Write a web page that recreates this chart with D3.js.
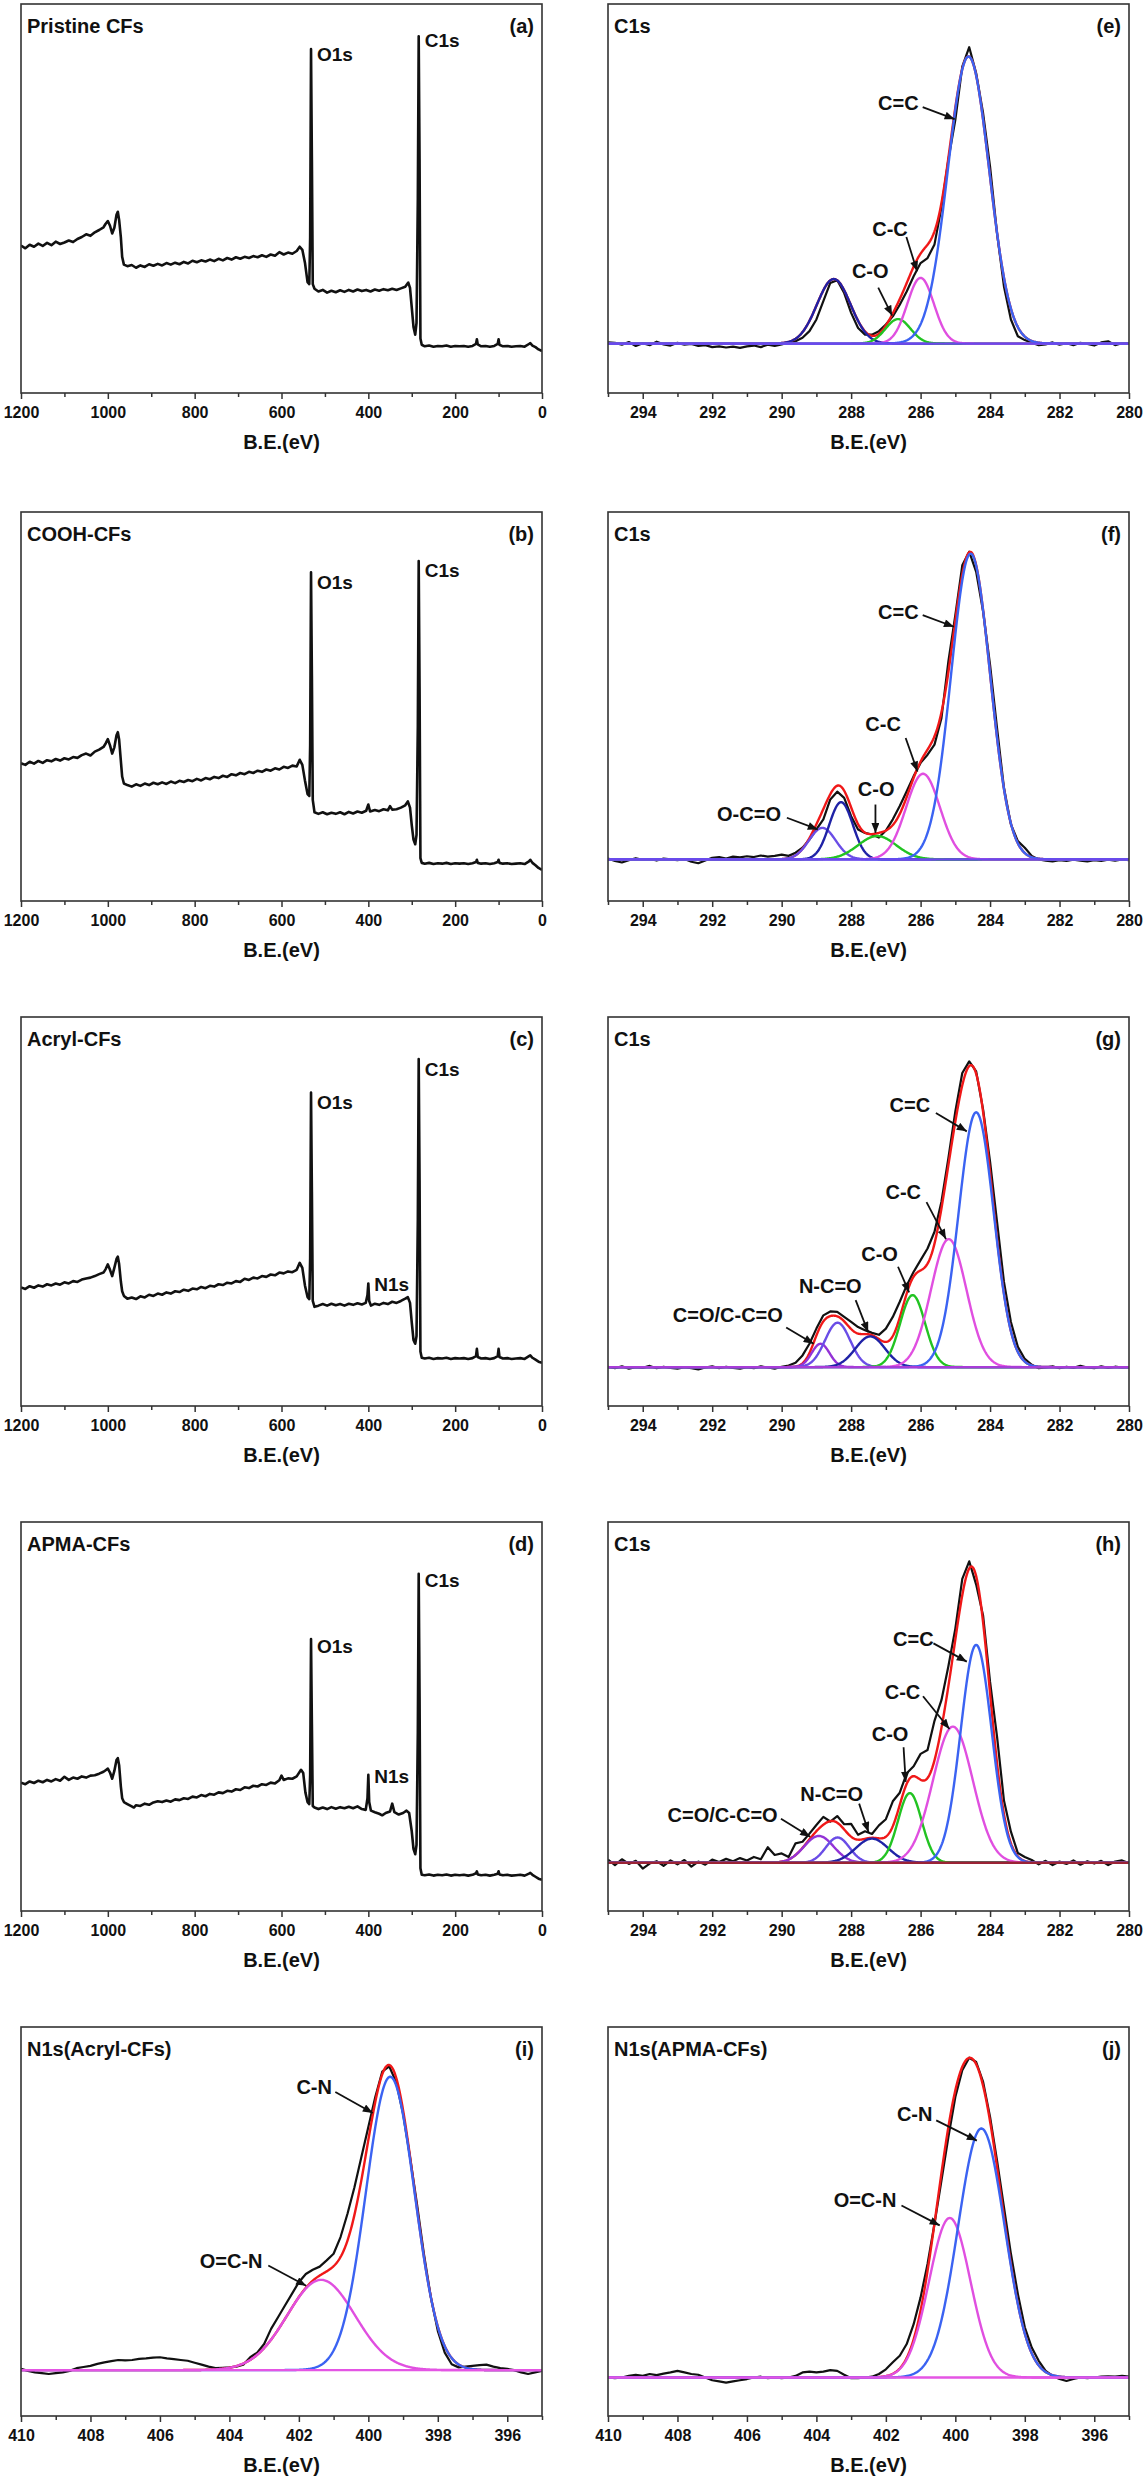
<!DOCTYPE html>
<html>
<head>
<meta charset="utf-8">
<script src="https://cdn.jsdelivr.net/npm/d3@7"></script>
<style>
body{margin:0;background:#fff}
text{font-family:"Liberation Sans",Arial,sans-serif;font-weight:bold;fill:#111}
</style>
</head>
<body>
<svg id="chart"></svg>
<script>
// survey spectra: [B.E. (eV), intensity as % of frame height]
const surveyA = [[1200,37.9],[1190,37.2],[1180,38.1],[1170,37.6],[1160,38.4],[1150,37.8],[1140,38.6],[1130,38.0],[1120,38.9],[1110,38.3],[1100,38.7],[1090,39.2],[1080,38.8],[1070,39.6],[1060,40.1],[1050,40.8],[1040,40.4],[1030,41.3],[1020,41.9],[1010,42.6],[1005,43.5],[1000,44.2],[995,43.0],[990,41.0],[985,42.5],[980,45.8],[977,46.6],[974,44.5],[970,40.0],[967,35.0],[963,33.0],[955,32.6],[945,32.9],[935,32.2],[925,32.8],[915,32.4],[905,33.1],[895,32.7],[885,33.2],[875,32.8],[865,33.4],[855,33.0],[845,33.5],[835,33.1],[825,33.7],[815,33.3],[805,34.0],[795,33.6],[785,34.1],[775,33.8],[765,34.3],[755,33.9],[745,34.5],[735,34.1],[725,34.7],[715,34.3],[705,34.9],[695,34.5],[685,35.0],[675,34.7],[665,35.2],[655,34.9],[645,35.4],[635,35.0],[625,35.6],[615,35.3],[605,36.2],[595,35.6],[585,36.1],[575,35.8],[565,36.5],[558,37.6],[552,36.8],[546,33.5],[540,28.5],[536,28.0],[534,40.0],[532,88.4],[530,60.0],[528,28.0],[524,26.8],[515,26.1],[505,26.5],[495,25.8],[485,26.3],[475,25.9],[465,26.4],[455,26.0],[445,26.5],[435,26.1],[425,26.6],[415,26.2],[405,26.5],[395,26.1],[385,26.6],[375,26.3],[365,26.7],[355,26.4],[345,26.8],[335,26.5],[325,26.9],[315,27.3],[308,28.4],[304,27.0],[300,22.0],[296,17.0],[292,15.0],[289,18.0],[286,50.0],[284,91.7],[282,60.0],[280,14.0],[277,12.4],[270,12.0],[260,12.2],[250,11.9],[240,12.1],[230,12.0],[220,12.2],[210,11.9],[200,12.1],[190,12.0],[180,12.1],[170,11.9],[160,12.1],[152,12.6],[150,13.8],[148,12.5],[140,12.0],[130,12.1],[120,11.9],[110,12.1],[102,12.6],[100,13.8],[98,12.4],[90,12.0],[80,12.1],[70,11.9],[60,12.0],[50,12.1],[40,11.9],[30,12.6],[27,12.8],[22,12.2],[15,11.8],[8,11.2],[0,10.8]];
const surveyB = [[1200,35.4],[1190,35.0],[1180,35.8],[1170,35.3],[1160,36.0],[1150,35.5],[1140,36.2],[1130,35.9],[1120,36.5],[1110,36.1],[1100,36.7],[1090,36.4],[1080,37.0],[1070,36.8],[1060,37.5],[1050,37.9],[1040,37.4],[1030,38.4],[1020,38.9],[1010,39.6],[1005,40.5],[1000,41.6],[995,40.0],[990,37.9],[985,39.5],[980,42.6],[977,43.4],[974,41.5],[970,36.0],[967,32.0],[963,30.2],[955,29.8],[945,29.4],[935,30.0],[925,29.6],[915,30.2],[905,29.8],[895,30.4],[885,30.0],[875,30.5],[865,30.1],[855,30.7],[845,30.3],[835,30.9],[825,30.6],[815,31.1],[805,30.8],[795,31.4],[785,31.0],[775,31.6],[765,31.3],[755,31.9],[745,31.6],[735,32.2],[725,31.9],[715,32.6],[705,32.3],[695,32.9],[685,32.6],[675,33.2],[665,32.9],[655,33.5],[645,33.2],[635,33.8],[625,33.5],[615,34.1],[605,33.8],[595,34.5],[585,34.2],[575,34.8],[565,34.6],[558,36.3],[552,35.0],[546,31.0],[540,27.5],[536,27.0],[534,40.0],[532,84.5],[530,58.0],[528,26.0],[524,22.8],[515,22.4],[505,22.8],[495,22.3],[485,22.7],[475,22.4],[465,22.8],[455,22.3],[445,22.9],[435,22.5],[425,23.0],[415,22.7],[405,23.2],[400,24.8],[396,23.0],[385,23.4],[375,23.1],[365,23.6],[355,23.3],[350,24.4],[345,23.5],[335,23.6],[325,24.0],[315,24.6],[309,25.6],[304,24.0],[300,19.5],[296,15.8],[292,14.6],[289,17.0],[286,45.0],[284,87.4],[282,55.0],[280,11.0],[277,9.8],[270,9.6],[260,9.8],[250,9.5],[240,9.7],[230,9.6],[220,9.8],[210,9.5],[200,9.7],[190,9.6],[180,9.7],[170,9.5],[160,9.7],[152,10.0],[150,10.6],[148,9.8],[140,9.6],[130,9.7],[120,9.5],[110,9.7],[102,10.0],[100,10.6],[98,9.8],[90,9.6],[80,9.7],[70,9.5],[60,9.6],[50,9.7],[40,9.5],[30,10.2],[27,10.6],[22,9.8],[15,9.2],[8,8.5],[0,8.0]];
const surveyC = [[1200,30.5],[1190,30.1],[1180,30.8],[1170,30.4],[1160,31.0],[1150,30.7],[1140,31.3],[1130,31.0],[1120,31.5],[1110,31.2],[1100,31.8],[1090,31.5],[1080,32.1],[1070,31.9],[1060,32.5],[1050,32.8],[1040,33.0],[1030,33.4],[1020,33.9],[1010,34.3],[1005,35.2],[1000,36.4],[995,35.0],[990,33.4],[985,35.5],[980,37.8],[977,38.4],[974,36.5],[970,32.0],[967,29.5],[963,28.3],[955,27.6],[945,27.9],[935,27.5],[925,28.2],[915,27.9],[905,28.6],[895,28.3],[885,28.9],[875,28.6],[865,29.2],[855,28.9],[845,29.5],[835,29.3],[825,29.9],[815,29.6],[805,30.2],[795,30.0],[785,30.6],[775,30.3],[765,30.9],[755,30.7],[745,31.3],[735,31.1],[725,31.7],[715,31.5],[705,32.1],[695,31.9],[685,32.7],[675,32.4],[665,33.0],[655,32.8],[645,33.4],[635,33.2],[625,33.8],[615,33.6],[605,34.3],[595,34.1],[585,34.6],[575,34.4],[565,35.0],[558,36.8],[552,35.5],[546,31.0],[540,28.0],[536,27.5],[534,38.0],[532,80.6],[530,55.0],[528,27.0],[524,25.5],[515,25.8],[505,26.2],[495,25.8],[485,26.3],[475,25.9],[465,26.2],[455,25.8],[445,26.3],[435,26.0],[425,26.4],[415,26.1],[406,26.5],[402,28.5],[400,31.5],[398,27.0],[394,25.8],[385,26.3],[375,26.0],[365,26.5],[355,26.2],[345,26.8],[335,26.5],[325,27.0],[315,27.6],[309,28.0],[304,26.5],[300,21.5],[296,17.0],[292,16.0],[289,18.0],[286,48.0],[284,89.2],[282,58.0],[280,14.0],[277,12.4],[270,12.2],[260,12.4],[250,12.1],[240,12.3],[230,12.2],[220,12.4],[210,12.1],[200,12.3],[190,12.2],[180,12.3],[170,12.1],[160,12.3],[152,12.8],[150,14.7],[148,12.6],[140,12.2],[130,12.3],[120,12.1],[110,12.3],[102,12.8],[100,14.7],[98,12.6],[90,12.2],[80,12.3],[70,12.1],[60,12.2],[50,12.3],[40,12.1],[30,12.8],[27,13.0],[22,12.4],[15,11.9],[8,11.4],[0,11.1]];
const surveyD = [[1200,33.0],[1190,32.6],[1180,33.3],[1170,32.9],[1160,33.5],[1150,33.1],[1140,33.7],[1130,33.3],[1120,33.9],[1110,33.5],[1100,34.5],[1090,33.7],[1080,34.3],[1070,34.0],[1060,34.6],[1050,34.3],[1040,34.8],[1030,34.9],[1020,35.3],[1010,35.8],[1005,36.2],[1000,36.6],[995,35.6],[990,34.0],[985,36.0],[980,38.8],[977,39.3],[974,37.5],[970,32.0],[967,29.0],[963,28.0],[955,27.5],[945,26.9],[940,26.6],[935,27.2],[925,27.0],[915,27.6],[905,27.3],[895,27.9],[885,28.2],[875,28.0],[865,28.4],[855,28.1],[845,28.7],[835,28.5],[825,29.0],[815,28.8],[805,29.4],[795,29.2],[785,29.8],[775,29.5],[765,30.1],[755,29.9],[745,30.5],[735,30.3],[725,30.9],[715,30.7],[705,31.3],[695,31.1],[685,31.8],[675,31.6],[665,32.2],[655,32.0],[645,32.6],[635,32.4],[625,33.0],[615,32.8],[605,33.6],[600,34.8],[595,33.7],[585,34.1],[575,34.0],[565,34.6],[555,36.3],[550,35.5],[545,30.5],[540,28.0],[536,27.5],[534,35.0],[532,69.9],[530,48.0],[528,27.0],[524,26.6],[515,26.2],[505,26.6],[495,26.2],[485,26.7],[475,26.3],[465,26.7],[455,26.4],[445,26.8],[435,26.4],[425,26.9],[415,26.2],[406,26.0],[402,29.0],[400,35.0],[398,28.0],[394,25.8],[385,25.4],[375,25.0],[368,24.6],[360,25.2],[350,25.6],[345,27.6],[340,25.4],[330,24.8],[320,25.2],[312,25.8],[306,25.2],[300,20.5],[296,16.0],[292,14.6],[289,17.0],[286,46.0],[284,86.7],[282,55.0],[280,11.0],[277,9.3],[270,9.2],[260,9.4],[250,9.1],[240,9.3],[230,9.2],[220,9.4],[210,9.1],[200,9.3],[190,9.2],[180,9.3],[170,9.1],[160,9.3],[152,9.7],[150,10.2],[148,9.4],[140,9.2],[130,9.3],[120,9.1],[110,9.3],[102,9.6],[100,10.2],[98,9.4],[90,9.2],[80,9.3],[70,9.1],[60,9.2],[50,9.3],[40,9.1],[30,9.6],[27,9.8],[22,9.3],[15,8.8],[8,8.3],[0,8.0]];

// survey peak names: [label, B.E., label height %]
const peaksA = [["O1s",532,86.9],["C1s",284,90.5]];
const peaksB = [["O1s",532,82.0],["C1s",284,84.9]];
const peaksC = [["O1s",532,78.0],["C1s",284,86.4],["N1s",400,31.3]];
const peaksD = [["O1s",532,67.9],["C1s",284,84.9],["N1s",400,34.6]];

// high resolution raw spectra, 0.2 eV grid from the left edge (295 or 410 eV)
const gridStep = 0.2;
const rawE = [0.3,0.2,-0.3,0.4,-0.6,0.1,-0.4,0.5,-0.2,-0.5,
  0.2,-0.3,-0.1,-0.6,-0.4,-0.9,-0.7,-1.0,-0.8,-1.1,
  -0.7,-0.5,-0.9,-0.3,-0.6,-0.2,0.3,0.6,1.5,3.2,
  6.2,10.9,15.6,16.3,13.0,7.9,4.0,2.3,2.3,3.2,
  4.9,7.0,10.0,13.4,17.3,20.7,22.0,25.5,35.0,47.3,
  57.5,71.2,76.2,69.5,59.2,45.5,28.4,14.7,6.2,1.9,
  0.9,0.2,-0.4,-0.2,0.3,-0.3,0.1,-0.4,0.2,-0.1,
  -0.5,0.3,0.6,-0.4,0.1,0.0];
const rawF = [0.2,-0.4,-0.8,-0.2,0.3,-0.1,0.1,-0.3,0.2,0.0,
  -0.2,0.1,-0.6,-1.0,-0.3,0.4,0.6,0.2,0.7,0.5,
  0.8,0.6,1.0,0.7,0.9,1.2,0.9,1.7,3.0,5.1,
  7.7,10.3,15.4,17.4,15.8,11.1,7.7,6.8,6.4,5.6,
  7.4,10.3,13.7,17.5,21.4,24.8,26.9,29.5,36.3,50.9,
  62.8,75.6,79.1,73.9,63.7,50.0,33.8,18.4,9.0,4.7,
  3.0,0.9,0.0,-0.3,-0.5,-0.2,-0.4,-0.1,-0.3,-0.5,
  -0.2,-0.4,-0.1,-0.3,0.0,-0.2];
const rawG = [0.1,-0.3,0.2,-0.4,0.0,-0.2,0.3,-0.3,0.1,-0.2,
  -0.4,0.0,-0.3,-0.6,-0.1,0.2,-0.3,0.1,-0.2,-0.4,
  0.0,-0.3,0.2,-0.1,-0.4,0.1,0.4,1.1,3.0,6.0,
  9.9,13.3,14.3,14.2,12.9,11.6,10.3,9.5,8.8,8.3,
  9.9,12.9,16.8,21.0,24.5,27.5,30.5,34.8,42.5,53.7,
  65.7,75.6,78.6,76.0,66.2,52.8,37.4,21.9,11.6,5.2,
  2.1,0.6,-0.3,-0.1,0.2,-0.3,0.1,-0.2,0.3,-0.1,
  -0.3,0.2,-0.2,0.1,-0.1,0.0];
const rawH = [0.8,-0.6,0.9,-0.3,0.5,-1.5,-0.2,0.4,-0.8,0.6,
  -0.4,0.7,-1.0,0.3,-0.5,0.8,0.2,1.0,0.4,1.2,
  0.6,1.5,0.9,4.0,2.0,2.4,1.5,5.0,5.4,7.5,
  9.7,11.8,10.6,12.0,9.9,10.0,7.2,8.1,7.4,9.6,
  11.2,15.8,18.0,23.0,24.8,28.0,29.0,36.5,41.8,50.5,
  60.2,73.0,77.5,71.5,63.5,46.5,32.5,16.0,8.0,2.5,
  1.5,0.7,-0.4,0.5,-0.6,0.3,-0.3,0.6,-0.5,0.4,
  -0.2,0.5,-0.6,0.3,0.6,-0.1];
const rawI = [0.3,-0.2,-0.6,-0.8,-1.0,-0.8,-0.6,-0.2,0.5,0.8,
  1.1,1.6,2.0,2.3,2.6,2.5,2.6,2.9,3.0,3.2,
  3.3,3.0,2.8,2.6,2.4,1.9,1.4,0.9,0.5,0.6,
  0.7,0.9,1.4,3.3,4.5,6.7,10.6,13.6,16.6,19.6,
  22.6,24.7,25.8,26.6,28.2,29.9,34.2,40.2,47.0,54.8,
  62.5,70.2,76.7,78.1,74.1,65.9,54.8,42.7,29.9,18.7,
  10.1,4.5,1.5,0.7,0.9,1.1,1.3,1.4,0.9,0.5,
  0.3,0.0,-0.6,-1.0,-0.6,-0.2];
const rawJ = [0.0,-0.2,0.0,0.4,0.7,0.4,0.9,0.6,1.0,1.3,
  1.7,1.3,0.9,0.7,0.0,-0.7,-1.0,-1.3,-1.0,-0.7,
  -0.4,0.0,0.2,-0.2,0.0,-0.2,0.0,0.4,1.3,1.5,
  1.3,1.5,1.9,1.7,0.7,-0.2,-0.2,0.0,0.2,0.9,
  2.1,3.9,5.6,8.6,13.7,20.6,29.2,39.5,50.6,61.8,
  72.1,79.0,82.2,81.1,76.0,67.0,55.8,43.8,31.8,21.5,
  12.9,7.7,4.3,1.7,0.4,-0.4,-0.9,-0.4,0.0,-0.2,
  0.0,0.2,0.3,0.2,0.4,0.2];

// fitted components: [assignment, centre eV, height, FWHM eV]
const fitE = [["C=O",288.5,16.6,1.14],["C-O",286.65,6.3,0.85],["C-C",286.0,16.9,0.9],["C=C",284.62,73.8,1.4]];
const fitF = [["O-C=O",288.83,8.1,0.9],["C=O",288.29,14.7,0.8],["C-O",287.25,6.0,1.3],["C-C",285.93,22.0,1.15],["C=C",284.56,78.6,1.32]];
const fitG = [["C=O/C-C=O",288.88,6.0,0.6],["C=O",288.39,11.4,0.85],["N-C=O",287.45,7.9,1.0],["C-O",286.23,18.5,0.85],["C-C",285.19,32.9,1.2],["C=C",284.40,65.5,1.19]];
const fitH = [["C=O/C-C=O",288.93,6.9,1.0],["C=O",288.39,6.5,0.8],["N-C=O",287.40,6.2,1.1],["C-O",286.31,17.9,0.8],["C-C",285.07,35.0,1.35],["C=C",284.40,56.0,1.05]];
const fitI = [["O=C-N",401.36,23.2,2.3],["C-N",399.37,75.4,1.65]];
const fitJ = [["O=C-N",400.16,41.0,1.4],["C-N",399.25,64.0,1.58]];

// colour per component
const palette = {blue:"#3b63f2",magenta:"#e04fe0",green:"#22c322",navy:"#1f22a6",violet:"#6a4de6",purple:"#9333d6",red:"#f01818"};
const hueE = ["navy","green","magenta","blue"];
const hueF = ["violet","navy","green","magenta","blue"];
const hueG = ["purple","violet","navy","green","magenta","blue"];
const hueH = ["purple","violet","navy","green","magenta","blue"];
const hueI = ["magenta","blue"];
const hueJ = ["magenta","blue"];

// peak annotations in data units: [text, tx, ty, arrow from (eV,I), arrow to (eV,I)]
const notesE = [["C=C",286.64,61.8,285.94,60.8,285.02,57.7],["C-C",286.88,29.5,286.41,27.4,286.10,18.6],["C-O",287.45,18.6,287.22,14.4,286.82,7.2]];
const notesF = [["C=C",286.64,63.7,285.94,62.8,285.04,59.8],["C-C",287.08,34.9,286.43,31.2,286.09,22.6],["C-O",287.28,18.1,287.30,14.1,287.30,6.8],["O-C=O",290.94,11.7,289.85,10.7,288.96,7.7]];
const notesG = [["C=C",286.31,67.4,285.56,65.3,284.67,60.6],["C-C",286.50,45.1,285.83,42.4,285.27,32.9],["C-O",287.18,29.2,286.65,25.8,286.33,19.2],["N-C=O",288.60,20.8,287.87,17.2,287.51,9.0],["C=O/C-C=O",291.55,13.3,289.87,10.2,289.08,6.0]];
const notesH = [["C=C",286.21,57.5,285.63,56.4,284.67,51.7],["C-C",286.52,43.8,285.93,42.8,285.17,34.4],["C-O",286.88,33.2,286.49,29.7,286.43,20.8],["N-C=O",288.56,17.8,287.77,15.2,287.50,7.9],["C=O/C-C=O",291.70,12.3,290.02,11.3,289.18,6.7]];
const notesI = [["C-N",401.56,72.8,400.95,71.5,399.87,66.1],["O=C-N",403.95,28.0,402.88,26.9,401.79,21.7]];
const notesJ = [["C-N",401.17,67.8,400.55,66.1,399.38,60.9],["O=C-N",402.60,45.5,401.55,44.2,400.45,39.1]];

// layout
const W = 1147, H = 2481;
const colX = [21, 608];
const rowY = [4, 512, 1017, 1522, 2027];
const fw = 521, fh = 389;

const axes = {
  survey:{domain:[1200,0],major:d3.range(1200,-1,-200),minor:d3.range(1100,0,-200)},
  c1s:{domain:[295,280],major:d3.range(294,279,-2),minor:d3.range(295,280,-2)},
  n1s:{domain:[410,395],major:d3.range(410,395,-2),minor:d3.range(409,394,-2)}
};

const panels = [
  {col:0,row:0,kind:"survey",title:"Pristine CFs",tag:"(a)",spec:surveyA,peaks:peaksA},
  {col:0,row:1,kind:"survey",title:"COOH-CFs",tag:"(b)",spec:surveyB,peaks:peaksB},
  {col:0,row:2,kind:"survey",title:"Acryl-CFs",tag:"(c)",spec:surveyC,peaks:peaksC},
  {col:0,row:3,kind:"survey",title:"APMA-CFs",tag:"(d)",spec:surveyD,peaks:peaksD},
  {col:1,row:0,kind:"c1s",title:"C1s",tag:"(e)",raw:rawE,fits:fitE,hues:hueE,base:12.7,baseHue:"#6c47ec",notes:notesE},
  {col:1,row:1,kind:"c1s",title:"C1s",tag:"(f)",raw:rawF,fits:fitF,hues:hueF,base:10.7,baseHue:"#6c47ec",notes:notesF},
  {col:1,row:2,kind:"c1s",title:"C1s",tag:"(g)",raw:rawG,fits:fitG,hues:hueG,base:10.0,baseHue:"#a83cd8",notes:notesG},
  {col:1,row:3,kind:"c1s",title:"C1s",tag:"(h)",raw:rawH,fits:fitH,hues:hueH,base:12.4,baseHue:"#9b2335",notes:notesH},
  {col:0,row:4,kind:"n1s",title:"N1s(Acryl-CFs)",tag:"(i)",raw:rawI,fits:fitI,hues:hueI,base:11.8,baseHue:"#e455e4",notes:notesI},
  {col:1,row:4,kind:"n1s",title:"N1s(APMA-CFs)",tag:"(j)",raw:rawJ,fits:fitJ,hues:hueJ,base:9.9,baseHue:"#e455e4",notes:notesJ}
];

const svg = d3.select("#chart").attr("width", W).attr("height", H);

svg.append("defs").append("marker")
  .attr("id","arrow")
  .attr("viewBox","0 0 10 8")
  .attr("refX",10).attr("refY",4)
  .attr("markerUnits","userSpaceOnUse")
  .attr("markerWidth",11).attr("markerHeight",8)
  .attr("orient","auto")
  .append("path").attr("d","M0,0L10,4L0,8Z").attr("fill","#111");

// gaussian line shape of a fitted component
function gauss(e, c, h, w){
  const s = w / 2.3548;
  return h * Math.exp(-((e - c) * (e - c)) / (2 * s * s));
}

panels.forEach((p, k) => {
  const ax = axes[p.kind];
  const g = svg.append("g").attr("transform", `translate(${colX[p.col]},${rowY[p.row]})`);
  const x = d3.scaleLinear().domain(ax.domain).range([0, fw]);
  const y = p.kind === "survey"
    ? d3.scaleLinear().domain([0, 100]).range([fh, 0])
    : d3.scaleLinear().domain([-p.base, 100 - p.base]).range([fh, 0]);

  g.append("clipPath").attr("id", "clip" + k)
    .append("rect").attr("width", fw).attr("height", fh);
  const plot = g.append("g").attr("clip-path", `url(#clip${k})`);

  const line = d3.line().x(d => x(d[0])).y(d => y(d[1]));

  if (p.kind === "survey") {
    plot.append("path").datum(p.spec)
      .attr("d", line).attr("fill","none")
      .attr("stroke","#111").attr("stroke-width",2.6).attr("stroke-linejoin","round");
    g.selectAll(".pk").data(p.peaks).enter().append("text")
      .attr("x", d => x(d[1]) + 6)
      .attr("y", d => y(d[2]))
      .attr("dominant-baseline","central")
      .attr("font-size",19)
      .text(d => d[0]);
  } else {
    const e0 = ax.domain[0];
    const raw = p.raw.map((v, i) => [e0 - i * gridStep, v]);
    const fine = d3.range(0, 751).map(i => e0 - i * 0.02);
    const comps = p.fits.map(f => fine.map(e => [e, gauss(e, f[1], f[2], f[3])]));
    const env = fine.map((e, i) => [e, d3.sum(comps, c => c[i][1])]);

    plot.append("path").datum(raw)
      .attr("d", line).attr("fill","none")
      .attr("stroke","#111").attr("stroke-width",2.2).attr("stroke-linejoin","round");
    plot.append("path").datum(env)
      .attr("d", line).attr("fill","none")
      .attr("stroke",palette.red).attr("stroke-width",2.4);
    comps.forEach((c, i) => {
      plot.append("path").datum(c)
        .attr("d", line).attr("fill","none")
        .attr("stroke",palette[p.hues[i]]).attr("stroke-width",2.4);
    });
    plot.append("line")
      .attr("x1",0).attr("x2",fw)
      .attr("y1",y(0)).attr("y2",y(0))
      .attr("stroke",p.baseHue).attr("stroke-width",2.4);

    p.notes.forEach(n => {
      g.append("line")
        .attr("x1",x(n[3])).attr("y1",y(n[4]))
        .attr("x2",x(n[5])).attr("y2",y(n[6]))
        .attr("stroke","#111").attr("stroke-width",1.8)
        .attr("marker-end","url(#arrow)");
      g.append("text")
        .attr("x",x(n[1])).attr("y",y(n[2]))
        .attr("text-anchor","middle")
        .attr("dominant-baseline","central")
        .attr("font-size",20)
        .text(n[0]);
    });
  }

  // frame
  g.append("rect").attr("width",fw).attr("height",fh)
    .attr("fill","none").attr("stroke","#333").attr("stroke-width",1.6);

  // x axis: labelled major ticks plus short minor ticks
  const xAxis = g.append("g").attr("transform",`translate(0,${fh})`)
    .call(d3.axisBottom(x).tickValues(ax.major).tickSize(6).tickSizeOuter(0).tickPadding(8).tickFormat(d3.format("d")));
  xAxis.select(".domain").remove();
  xAxis.selectAll("line").attr("stroke","#333").attr("stroke-width",1.5);
  xAxis.selectAll("text").attr("font-size",16).attr("fill","#111")
    .attr("font-family",'"Liberation Sans",Arial,sans-serif').attr("font-weight","bold");

  const minorAxis = g.append("g").attr("transform",`translate(0,${fh})`)
    .call(d3.axisBottom(x).tickValues(ax.minor).tickSize(4).tickSizeOuter(0).tickFormat(""));
  minorAxis.select(".domain").remove();
  minorAxis.selectAll("line").attr("stroke","#333").attr("stroke-width",1.5);

  g.append("text")
    .attr("x",fw / 2).attr("y",fh + 56)
    .attr("text-anchor","middle")
    .attr("font-size",20)
    .text("B.E.(eV)");

  g.append("text").attr("x",6).attr("y",29).attr("font-size",20).text(p.title);
  g.append("text").attr("x",fw - 8).attr("y",29).attr("text-anchor","end").attr("font-size",20).text(p.tag);
});
</script>
</body>
</html>
